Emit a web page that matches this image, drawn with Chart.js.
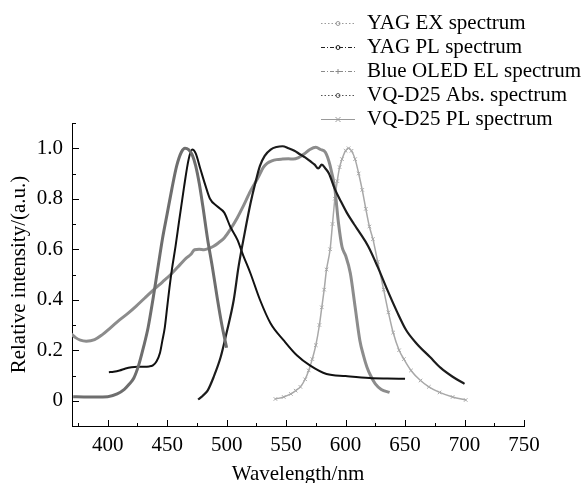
<!DOCTYPE html>
<html><head><meta charset="utf-8">
<script src="https://cdn.jsdelivr.net/npm/chart.js@4"></script>
<style>html,body{margin:0;padding:0;background:#fff}#c{display:block}</style>
</head><body>
<canvas id="c" width="585" height="483"></canvas>
<script>
// ---- data ----
const seriesLabels = ['YAG EX spectrum','YAG PL spectrum','Blue OLED EL spectrum','VQ-D25 Abs. spectrum','VQ-D25 PL spectrum'];

const yagExWl  = [371,380,390,400,408,414,418,422,426,430,434,438,442,446,450,454,458,462,465,468,471,474,477,480,484,488,492,496,500];
const yagExVal = [0.016,0.015,0.015,0.016,0.027,0.045,0.065,0.09,0.14,0.21,0.29,0.40,0.52,0.64,0.74,0.84,0.93,0.985,1.0,0.995,0.975,0.93,0.86,0.77,0.64,0.53,0.41,0.30,0.21];

const yagPlWl  = [476,480,484,489,495,500,506,510,515,520,524,528,532,537,542,547,552,557,562,566,570,574,577,580,583,586,591,596,601,607,612,619,627,635,643,651,660,671,680,690,700];
const yagPlVal = [0.005,0.02,0.04,0.093,0.173,0.27,0.40,0.53,0.66,0.78,0.86,0.93,0.97,0.995,1.005,1.008,1.0,0.99,0.975,0.964,0.95,0.935,0.92,0.935,0.92,0.90,0.838,0.79,0.745,0.70,0.665,0.612,0.53,0.44,0.355,0.279,0.225,0.173,0.13,0.095,0.067];

const oledWl  = [401,405,410,415,420,425,430,435,438,441,444,446,448,450,452,454,457,460,464,468,471,474,478,482,486,492,498,503,509,514,520,528,537,548,559,570,584,600,620,635,650];
const oledVal = [0.113,0.115,0.12,0.128,0.133,0.135,0.135,0.136,0.14,0.155,0.19,0.239,0.29,0.37,0.45,0.52,0.61,0.71,0.84,0.955,0.995,0.98,0.917,0.855,0.80,0.77,0.745,0.69,0.638,0.575,0.505,0.40,0.306,0.239,0.18,0.14,0.106,0.098,0.09,0.088,0.087];

const vqAbsWl  = [369,373,377,382,389,395,403,410,417,424,431,439,446,453,461,466,470,473,477,481,485,489,493,498,503,509,514,520,526,531,534,538,542,547,552,556,560,565,570,575,579,583,587,591,594,597,600,604,608,612,615,618,621,625,630,637];
const vqAbsVal = [0.266,0.25,0.24,0.236,0.242,0.26,0.292,0.32,0.346,0.375,0.406,0.441,0.47,0.50,0.54,0.565,0.58,0.598,0.60,0.598,0.603,0.612,0.625,0.645,0.678,0.725,0.771,0.83,0.88,0.925,0.94,0.95,0.955,0.957,0.958,0.957,0.962,0.977,0.995,1.004,0.995,0.984,0.931,0.838,0.705,0.61,0.575,0.505,0.372,0.239,0.18,0.133,0.10,0.067,0.045,0.033];

const vqPlWl  = [541,548,554,558,562,566,569,572,575,578,580,582,584,587,589,591,593,595,597,600,602.5,605,608,611,614,617,620,623,627,632,636,640,645,649,655,663,670,679,690,701];
const vqPlVal = [0.007,0.015,0.027,0.04,0.055,0.085,0.12,0.165,0.22,0.30,0.37,0.44,0.52,0.60,0.70,0.80,0.87,0.925,0.957,0.99,1.0,0.99,0.957,0.90,0.835,0.76,0.69,0.64,0.55,0.44,0.35,0.27,0.2,0.165,0.12,0.08,0.055,0.033,0.015,0.003];

const xTickValues = [400,450,500,550,600,650,700,750];
const xMinorTicks = [375,425,475,525,575,625,675,725];
const yTickValues = [0,0.2,0.4,0.6,0.8,1.0];
const yMinorTicks = [0.1,0.3,0.5,0.7,0.9,1.1];

// ---- styles ----
const FONT = "'Liberation Serif','Times New Roman',serif";
const curveStyles = [
  {color:'#6e6e6e', width:3},
  {color:'#1c1c1c', width:2.2},
  {color:'#111111', width:2},
  {color:'#8c8c8c', width:3},
  {color:'#a8a8a8', width:1.5, point:'crossRot'}
];
const legendStyles = [
  {color:'#9a9a9a', dash:[1.5,2], marker:'circle'},
  {color:'#222222', dash:[4,2,1,2], marker:'circle'},
  {color:'#8a8a8a', dash:[4,2,1,2], marker:'plus'},
  {color:'#555555', dash:[1.5,2], marker:'circle'},
  {color:'#9a9a9a', dash:[], marker:'cross'}
];

function pts(w, v) { return w.map((x, i) => ({x: x, y: v[i]})); }
const seriesData = [
  pts(yagExWl, yagExVal),
  pts(yagPlWl, yagPlVal),
  pts(oledWl, oledVal),
  pts(vqAbsWl, vqAbsVal),
  pts(vqPlWl, vqPlVal)
];

const datasets = seriesData.map((d, i) => {
  const s = curveStyles[i];
  return {
    label: seriesLabels[i],
    data: d,
    borderColor: s.color,
    borderWidth: s.width,
    backgroundColor: s.color,
    fill: false,
    cubicInterpolationMode: 'monotone',
    pointStyle: s.point || 'circle',
    pointRadius: s.point ? 2.5 : 0,
    pointBorderWidth: 1,
    pointBorderColor: s.color
  };
});

const tickPlugin = {
  id: 'inwardTicks',
  afterDraw(chart) {
    const ctx = chart.ctx, xs = chart.scales.x, ys = chart.scales.y, a = chart.chartArea;
    ctx.save();
    ctx.strokeStyle = '#000';
    ctx.lineWidth = 1;
    ctx.beginPath();
    xTickValues.forEach(v => { const p = Math.round(xs.getPixelForValue(v)) + 0.5; ctx.moveTo(p, a.bottom); ctx.lineTo(p, a.bottom - 6); });
    xMinorTicks.forEach(v => { const p = Math.round(xs.getPixelForValue(v)) + 0.5; ctx.moveTo(p, a.bottom); ctx.lineTo(p, a.bottom - 3); });
    yTickValues.forEach(v => { const p = Math.round(ys.getPixelForValue(v)) + 0.5; ctx.moveTo(a.left, p); ctx.lineTo(a.left + 7, p); });
    yMinorTicks.forEach(v => { const p = Math.round(ys.getPixelForValue(v)) + 0.5; ctx.moveTo(a.left, p); ctx.lineTo(a.left + 4, p); });
    ctx.stroke();

    // legend
    ctx.font = '21px ' + FONT;
    ctx.textBaseline = 'middle';
    ctx.textAlign = 'left';
    seriesLabels.forEach((lab, i) => {
      const y = 23.5 + 24 * i;
      const st = legendStyles[i];
      ctx.strokeStyle = st.color;
      ctx.lineWidth = 1;
      ctx.setLineDash(st.dash);
      ctx.beginPath(); ctx.moveTo(321, y); ctx.lineTo(355, y); ctx.stroke();
      ctx.setLineDash([]);
      const cx = 338;
      ctx.beginPath();
      if (st.marker === 'circle') { ctx.arc(cx, y, 2, 0, Math.PI * 2); }
      else if (st.marker === 'plus') { ctx.moveTo(cx - 2.5, y); ctx.lineTo(cx + 2.5, y); ctx.moveTo(cx, y - 2.5); ctx.lineTo(cx, y + 2.5); }
      else { ctx.moveTo(cx - 2.5, y - 2.5); ctx.lineTo(cx + 2.5, y + 2.5); ctx.moveTo(cx + 2.5, y - 2.5); ctx.lineTo(cx - 2.5, y + 2.5); }
      ctx.stroke();
      ctx.fillStyle = '#000';
      ctx.fillText(lab, 367, y);
    });
    ctx.restore();
  }
};

new Chart(document.getElementById('c'), {
  type: 'line',
  data: { datasets: datasets },
  options: {
    responsive: false,
    animation: false,
    devicePixelRatio: 1,
    layout: { padding: { top: 123, right: 61, left: 0, bottom: 0 } },
    plugins: { legend: { display: false }, tooltip: { enabled: false } },
    scales: {
      x: {
        type: 'linear', min: 370, max: 750,
        afterBuildTicks: s => { s.ticks = xTickValues.map(v => ({value: v})); },
        afterFit: s => { s.height = 57; },
        grid: { display: false, drawTicks: false },
        border: { display: true, color: '#000', width: 1 },
        ticks: { color: '#000', font: { family: FONT, size: 21 }, padding: 7, maxRotation: 0, autoSkip: false },
        title: { display: true, text: 'Wavelength/nm', color: '#000', font: { family: FONT, size: 21, lineHeight: 0.8 }, padding: { top: 0, bottom: 0 } }
      },
      y: {
        type: 'linear', min: -0.1, max: 1.1,
        afterBuildTicks: s => { s.ticks = yTickValues.map(v => ({value: v})); },
        afterFit: s => { s.width = 72; },
        grid: { display: false, drawTicks: false },
        border: { display: true, color: '#000', width: 1 },
        ticks: { color: '#000', font: { family: FONT, size: 21 }, padding: 9, autoSkip: false,
          callback: v => (v === 0 ? '0' : Number(v).toFixed(1)) },
        title: { display: true, text: 'Relative intensity/(a.u.)', color: '#000', font: { family: FONT, size: 21 }, padding: { top: 7, bottom: 0 } }
      }
    }
  },
  plugins: [tickPlugin]
});
</script>
</body></html>
